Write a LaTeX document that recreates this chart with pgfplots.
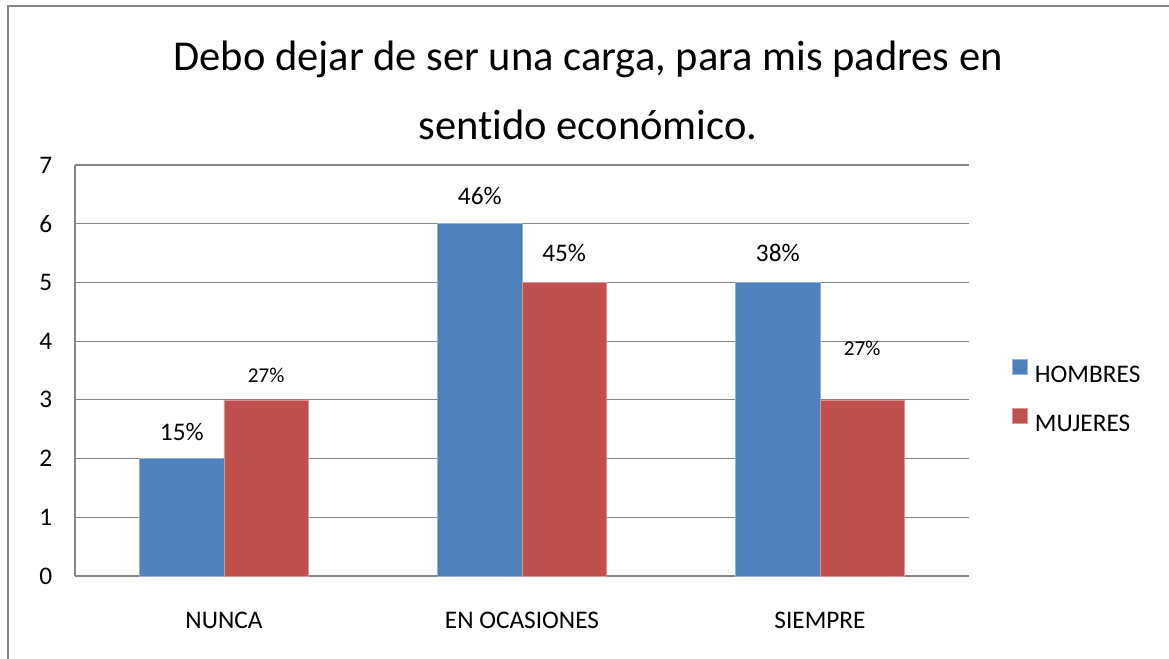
\documentclass[border=0pt]{standalone}
\usepackage{pgfplots}
\pgfplotsset{compat=1.18}
\usepackage{fontspec}
\setmainfont[Ligatures=NoCommon]{Carlito}
\definecolor{hblue}{HTML}{4F81BD}
\definecolor{mred}{HTML}{C0504D}
\definecolor{gridc}{HTML}{868686}
\begin{document}
\begin{tikzpicture}
\path[use as bounding box] (-1.5,-1.64) rectangle (21.88,11.52);
\draw[gridc, line width=0.7pt] (-1.34,-3) -- (-1.34,11.40) -- (24,11.40);
\begin{axis}[
  scale only axis, width=17.88cm, height=8.22cm,
  xmin=-0.5, xmax=2.5, ymin=0, ymax=7,
  xtick={0,1,2}, xticklabels={NUNCA, EN OCASIONES, SIEMPRE},
  ytick={0,1,2,3,4,5,6,7},
  major tick length=0pt,
  axis x line*=bottom, axis y line*=left,
  axis line style={gridc, line width=0.8pt, -},
  ymajorgrids, grid style={gridc, line width=0.7pt},
  ticklabel style={font=\fontsize{14.4}{17}\selectfont},
  /pgf/number format/assume math mode=true,
  yticklabel style={xshift=-0.33cm},
  xticklabel style={yshift=-0.59cm},
  ybar, bar width=0.283,
  legend style={at={(1.048,0.44)}, anchor=west, draw=none, fill=none,
    inner sep=0pt, font=\fontsize{14.4}{17}\selectfont,
    nodes={inner sep=0pt, text height=0.3cm, text depth=0pt},
    row sep=0.52cm, column sep=0.14cm, cells={anchor=west}},
  legend image code/.code={\fill[#1] (0cm,0cm) rectangle (0.3cm,0.3cm);},
]
\addplot[fill=hblue, draw=hblue!60!white, line width=0.4pt, bar shift=-0.1415] coordinates {(0,2) (1,6) (2,5)};
\addplot[fill=mred, draw=mred!60!white, line width=0.4pt, bar shift=0.1415] coordinates {(0,3) (1,5) (2,3)};
\legend{HOMBRES, MUJERES}
\node[anchor=base, font=\fontsize{14.4}{17}\selectfont] at (axis cs:-0.1415,2.30) {15\%};
\node[anchor=base, font=\fontsize{12}{14}\selectfont] at (axis cs:0.1415,3.30) {27\%};
\node[anchor=base, font=\fontsize{14.4}{17}\selectfont] at (axis cs:0.8585,6.32) {46\%};
\node[anchor=base, font=\fontsize{14.4}{17}\selectfont] at (axis cs:1.1415,5.35) {45\%};
\node[anchor=base, font=\fontsize{14.4}{17}\selectfont] at (axis cs:1.8585,5.35) {38\%};
\node[anchor=base, font=\fontsize{12}{14}\selectfont] at (axis cs:2.1415,3.75) {27\%};
\end{axis}
\node[align=center, font=\fontsize{24.2}{39.2}\selectfont] at (10.26,9.72) {Debo dejar de ser una carga, para mis padres en\\sentido económico.};
\end{tikzpicture}
\end{document}
